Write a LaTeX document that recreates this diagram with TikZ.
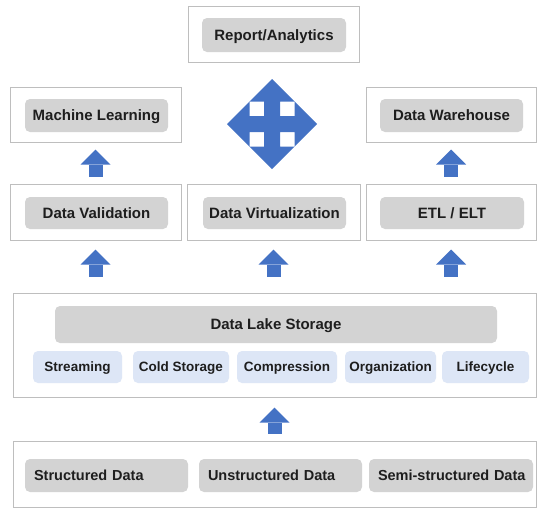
\documentclass[tikz,border=0pt]{standalone}
\usepackage{fontspec}
\setmainfont{Liberation Sans}
\usetikzlibrary{arrows.meta}
\definecolor{boxline}{RGB}{190,190,190}
\definecolor{chipgray}{RGB}{211,211,211}
\definecolor{chipblue}{RGB}{221,230,246}
\definecolor{arrowblue}{RGB}{68,114,196}
\definecolor{ink}{RGB}{30,30,30}
\begin{document}
\begin{tikzpicture}[x=1pt,y=-1pt,
  frame/.style={draw=boxline,line width=1pt,fill=white,inner sep=0pt},
  chip/.style={fill=chipgray,rounded corners=5pt,inner sep=0pt,text=ink,
    font=\bfseries\fontsize{15}{18}\selectfont,text height=11pt,text depth=0.6pt},
  subchip/.style={chip,fill=chipblue,minimum height=32pt,
    font=\bfseries\fontsize{13.5}{16}\selectfont,text height=10pt,text depth=0.3pt},
  srcchip/.style={chip,minimum height=33pt,inner xsep=9pt,text width=#1,align=left,
    font=\bfseries\fontsize{14.5}{17}\selectfont,text height=10.5pt,text depth=0.3pt},
  flow/.style={draw=arrowblue,line width=14pt,
    -{Triangle[length=15pt,width=30pt,line width=0pt]}}]
\useasboundingbox (0,0) rectangle (540,509);
\node[frame,minimum width=171pt,minimum height=56pt] (repbox) at (273.5,34) {};
\node[chip,minimum width=144pt,minimum height=34pt] (rep) at (274,35) {Report/Analytics};
\node[frame,minimum width=171pt,minimum height=55pt] (mlbox) at (95.5,114.5) {};
\node[chip,minimum width=143pt,minimum height=33pt] (ml) at (96.5,115.5) {Machine Learning};
\node[frame,minimum width=170pt,minimum height=55pt] (dwbox) at (451,114.5) {};
\node[chip,minimum width=143pt,minimum height=33pt] (dw) at (451.5,115.5) {Data Warehouse};
\fill[arrowblue,shift={(272,124)}] (0pt,45pt) -- (22.5pt,22.5pt) -- (8pt,22.5pt) -- (8pt,8pt)
  -- (22.5pt,8pt) -- (22.5pt,22.5pt) -- (45pt,0pt) -- (22.5pt,-22.5pt) -- (22.5pt,-8pt)
  -- (8pt,-8pt) -- (8pt,-22.5pt) -- (22.5pt,-22.5pt) -- (0pt,-45pt) -- (-22.5pt,-22.5pt)
  -- (-8pt,-22.5pt) -- (-8pt,-8pt) -- (-22.5pt,-8pt) -- (-22.5pt,-22.5pt) -- (-45pt,0pt)
  -- (-22.5pt,22.5pt) -- (-22.5pt,8pt) -- (-8pt,8pt) -- (-8pt,22.5pt) -- (-22.5pt,22.5pt) -- cycle;
\node[frame,minimum width=171pt,minimum height=56pt] (dvbox) at (95.5,212) {};
\node[chip,minimum width=143pt,minimum height=32pt] (dv) at (96.5,213) {Data Validation};
\node[frame,minimum width=173pt,minimum height=56pt] (virtbox) at (273.5,212) {};
\node[chip,minimum width=143pt,minimum height=32pt] (virt) at (274.5,213) {Data Virtualization};
\node[frame,minimum width=170pt,minimum height=56pt] (etlbox) at (451,212) {};
\node[chip,minimum width=144pt,minimum height=32pt] (etl) at (452,213) {ETL / ELT};
\node[frame,minimum width=523pt,minimum height=104pt] (lakebox) at (274.5,345) {};
\node[chip,minimum width=442pt,minimum height=37pt] (lake) at (276,324.5) {Data Lake Storage};
\node[subchip,minimum width=89pt] (stream) at (77.5,367) {Streaming};
\node[subchip,minimum width=96pt] (cold) at (181,367) {Cold Storage};
\node[subchip,minimum width=100pt] (comp) at (287,367) {Compression};
\node[subchip,minimum width=91pt] (org) at (390.5,367) {Organization};
\node[subchip,minimum width=87pt] (life) at (485.5,367) {Lifecycle};
\node[frame,minimum width=523pt,minimum height=66pt] (srcbox) at (274.5,474) {};
\node[srcchip=145pt] (struct) at (106.5,475.5) {\mbox{Structured Data}};
\node[srcchip=145pt] (unstruct) at (280.5,475.5) {\mbox{Unstructured Data}};
\node[srcchip=146pt] (semi) at (451,475.5) {\mbox{Semi-structured Data}};
\draw[flow,shorten <=7pt,shorten >=7pt] (dvbox) -- (mlbox);
\draw[flow,shorten <=7pt,shorten >=7pt] (etlbox) -- (dwbox);
\draw[flow,shorten <=16pt,shorten >=9pt] (dvbox |- lakebox.north) -- (dvbox.south);
\draw[flow,shorten <=16pt,shorten >=9pt] (virtbox |- lakebox.north) -- (virtbox.south);
\draw[flow,shorten <=16pt,shorten >=9pt] (etlbox |- lakebox.north) -- (etlbox.south);
\draw[flow,shorten <=7pt,shorten >=10pt] (srcbox) -- (lakebox);
\end{tikzpicture}
\end{document}
